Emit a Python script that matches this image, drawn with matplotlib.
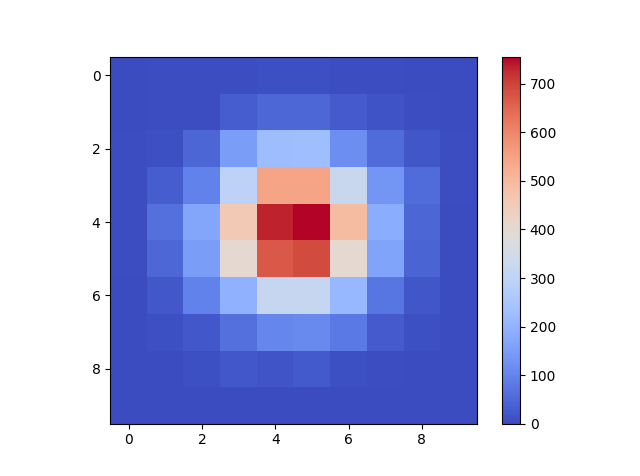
import numpy as np
from matplotlib import pyplot as plt

row0 = [2, 3, 4, 5, 6, 8, 5, 3, 2, 1]
row1 = [2, 3, 3, 30, 48, 48, 28, 12, 4, 1]
row2 = [3, 6, 45, 150, 225, 228, 120, 55, 18, 3]
row3 = [3, 32, 95, 295, 545, 545, 325, 135, 55, 3]
row4 = [4, 62, 170, 455, 732, 755, 490, 185, 45, 2]
row5 = [3, 48, 150, 400, 672, 690, 400, 165, 42, 2]
row6 = [2, 22, 95, 195, 320, 320, 210, 75, 20, 2]
row7 = [1, 6, 22, 62, 105, 110, 80, 28, 6, 1]
row8 = [0, 2, 6, 22, 16, 26, 6, 5, 1, 0]
row9 = [0, 0, 0, 0, 0, 0, 0, 0, 0, 0]

data = np.array([row0, row1, row2, row3, row4, row5, row6, row7, row8, row9])

fig = plt.figure(figsize=(6.4, 4.76), dpi=100)
ax = fig.add_subplot(111)
im = ax.imshow(data, cmap='coolwarm', vmin=0, vmax=755)
fig.colorbar(im, ax=ax)

fig.savefig('out.png')
